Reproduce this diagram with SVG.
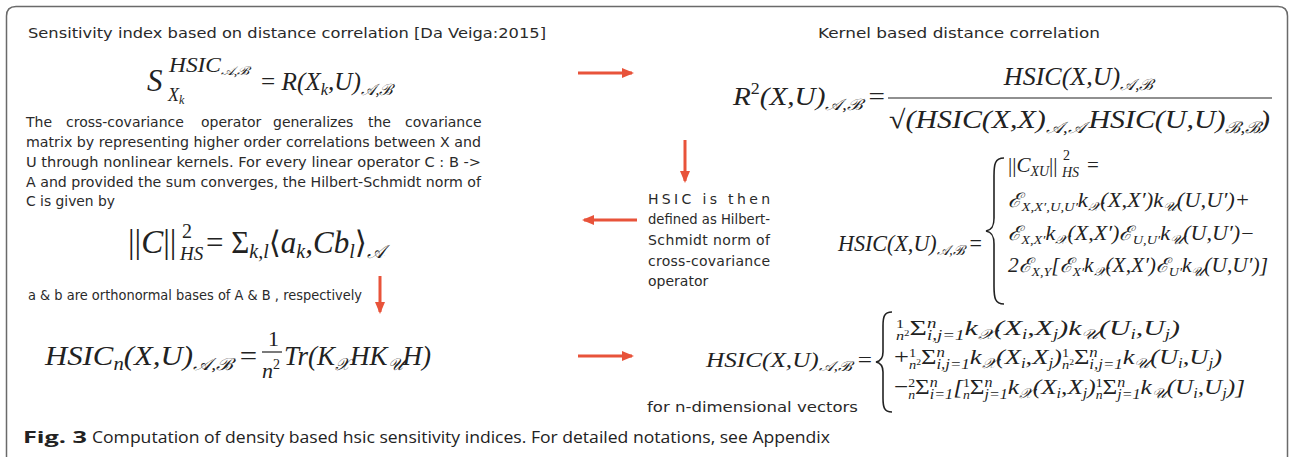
<svg xmlns="http://www.w3.org/2000/svg" width="1292" height="457" viewBox="0 0 1292 457">
  <style>
    .t { font-family: "DejaVu Sans", Verdana, sans-serif; font-size: 14px; fill: #2a2a2a; }
    .m { font-family: "Liberation Serif", "Times New Roman", "DejaVu Serif", serif; font-style: italic; fill: #222; }
    .up { font-style: normal; }
    .cap { font-family: "Open Sans", "Noto Sans", sans-serif; font-size: 16px; fill: #222; }
    .frame { fill: none; stroke: #6a6a6a; stroke-width: 1.5; }
    .arrow { stroke: #e8533a; stroke-width: 3; fill: none; marker-end: url(#head); }
    .brace { fill: none; stroke: #222; stroke-width: 1.6; }
    .bar { stroke: #222; stroke-width: 1.2; }
  </style>
  <defs>
    <marker id="head" viewBox="0 0 12 10" refX="10" refY="5" markerWidth="12" markerHeight="10" markerUnits="userSpaceOnUse" orient="auto">
      <path d="M0,0 L12,5 L0,10 Z" fill="#e8533a"/>
    </marker>
  </defs>

  <rect width="1292" height="457" fill="#fff"/>
  <!-- panel frame, open at the bottom edge -->
  <path class="frame" d="M6.5,470 L6.5,16 Q6.5,6.5 16,6.5 L1278,6.5 Q1287.5,6.5 1287.5,16 L1287.5,470"/>

  <!-- top-left: sensitivity index -->
  <g id="sensitivity-index">
    <text class="t" x="28" y="38" font-size="15" textLength="518" lengthAdjust="spacingAndGlyphs">Sensitivity index based on distance correlation [Da Veiga:2015]</text>
    <text class="m" x="147" y="91" font-size="31">S</text>
    <text class="m" x="169" y="72" font-size="20" textLength="80" lengthAdjust="spacingAndGlyphs">HSIC<tspan font-size="12" dy="3">𝒜,ℬ</tspan></text>
    <text class="m" x="168" y="101" font-size="18">X<tspan font-size="12" dy="3">k</tspan></text>
    <text class="m" x="261" y="90" font-size="26" textLength="131" lengthAdjust="spacingAndGlyphs"><tspan class="up">= </tspan>R(X<tspan font-size="17" dy="5">k</tspan><tspan dy="-5">,U)</tspan><tspan font-size="16" dy="5">𝒜,ℬ</tspan></text>
  </g>

  <!-- left: cross-covariance operator -->
  <g id="cross-covariance">
    <text class="t" y="127"><tspan x="26">The</tspan><tspan x="66">cross-covariance</tspan><tspan x="201">operator</tspan><tspan x="273">generalizes</tspan><tspan x="368">the</tspan><tspan x="405">covariance</tspan></text>
    <text class="t" x="26" y="147" textLength="455" lengthAdjust="spacingAndGlyphs">matrix by representing higher order correlations between X and</text>
    <text class="t" x="26" y="167" textLength="455" lengthAdjust="spacingAndGlyphs">U through nonlinear kernels. For every linear operator C : B -&gt;</text>
    <text class="t" x="26" y="187" textLength="455" lengthAdjust="spacingAndGlyphs">A and provided the sum converges, the Hilbert-Schmidt norm of</text>
    <text class="t" x="26" y="206" textLength="89" lengthAdjust="spacingAndGlyphs">C is given by</text>
    <text class="m" x="128" y="253" font-size="33"><tspan class="up">||</tspan>C<tspan class="up">||</tspan></text>
    <text class="m up" x="182" y="238" font-size="20">2</text>
    <text class="m" x="180" y="260" font-size="19">HS</text>
    <text class="m" x="206" y="253" font-size="31"><tspan class="up">= Σ</tspan><tspan font-size="20" dy="5">k,l</tspan><tspan dy="-5" class="up">⟨</tspan>a<tspan font-size="20" dy="5">k</tspan><tspan dy="-5">,Cb</tspan><tspan font-size="20" dy="5">l</tspan><tspan dy="-5" class="up">⟩</tspan><tspan font-size="19" dy="5">𝒜</tspan></text>
    <text class="t" x="28" y="300" font-size="13" textLength="334" lengthAdjust="spacingAndGlyphs">a &amp; b are orthonormal bases of A &amp; B , respectively</text>
  </g>

  <!-- bottom-left: empirical estimator -->
  <g id="empirical-hsic">
    <text class="m" x="45" y="365" font-size="27" textLength="212" lengthAdjust="spacingAndGlyphs">HSIC<tspan font-size="18" dy="5">n</tspan><tspan dy="-5">(X,U)</tspan><tspan font-size="17" dy="5">𝒜,ℬ</tspan><tspan dy="-5" class="up"> =</tspan></text>
    <text class="m up" x="268" y="346" font-size="22">1</text>
    <line class="bar" x1="262" y1="352" x2="282" y2="352"/>
    <text class="m" x="262" y="378" font-size="22">n<tspan font-size="14" dy="-9" class="up">2</tspan></text>
    <text class="m" x="284" y="365" font-size="27">Tr(K<tspan font-size="17" dy="5">𝒳</tspan><tspan dy="-5">HK</tspan><tspan font-size="17" dy="5">𝒰</tspan><tspan dy="-5">H)</tspan></text>
  </g>

  <!-- top-right: kernel distance correlation -->
  <g id="kernel-correlation">
    <text class="t" x="959" y="38" text-anchor="middle" textLength="282" lengthAdjust="spacingAndGlyphs">Kernel based distance correlation</text>
    <text class="m" x="733" y="105" font-size="26" textLength="152" lengthAdjust="spacingAndGlyphs">R<tspan font-size="16" dy="-11" class="up">2</tspan><tspan dy="11">(X,U)</tspan><tspan font-size="16" dy="5">𝒜,ℬ</tspan><tspan dy="-5" class="up"> =</tspan></text>
    <text class="m" x="1078" y="85" font-size="26" text-anchor="middle">HSIC(X,U)<tspan font-size="16" dy="5">𝒜,ℬ</tspan></text>
    <line class="bar" x1="888" y1="98" x2="1272" y2="98"/>
    <text class="m" x="889" y="128" font-size="26" textLength="381" lengthAdjust="spacingAndGlyphs"><tspan class="up">√</tspan>(HSIC(X,X)<tspan font-size="16" dy="5">𝒜,𝒜</tspan><tspan dy="-5" dx="3">HSIC(U,U)</tspan><tspan font-size="16" dy="5">ℬ,ℬ</tspan><tspan dy="-5">)</tspan></text>
  </g>

  <!-- right: HSIC as Hilbert-Schmidt norm -->
  <g id="hsic-definition">
    <text class="t" x="648" y="204" textLength="122" lengthAdjust="spacing">HSIC is then</text>
    <text class="t" x="648" y="224" textLength="122" lengthAdjust="spacingAndGlyphs">defined as Hilbert-</text>
    <text class="t" x="648" y="245" textLength="122" lengthAdjust="spacing">Schmidt norm of</text>
    <text class="t" x="648" y="266" textLength="122" lengthAdjust="spacing">cross-covariance</text>
    <text class="t" x="648" y="286">operator</text>
    <text class="m" x="838" y="251" font-size="23" textLength="144" lengthAdjust="spacingAndGlyphs">HSIC(X,U)<tspan font-size="14" dy="4">𝒜,ℬ</tspan><tspan dy="-4" class="up"> =</tspan></text>
    <path class="brace" d="M1004,158 C995,158 994,164 994,176 L994,218 C994,226 992,230 986,231 C992,232 994,236 994,244 L994,286 C994,298 995,304 1004,304"/>
    <text class="m" x="1008" y="172" font-size="21"><tspan class="up">||</tspan>C<tspan font-size="14" dy="4">XU</tspan><tspan dy="-4" class="up">||</tspan></text>
    <text class="m up" x="1063" y="160" font-size="14">2</text>
    <text class="m" x="1062" y="177" font-size="14">HS</text>
    <text class="m up" x="1087" y="172" font-size="21">=</text>
    <text class="m" x="1008" y="207" font-size="20" textLength="242" lengthAdjust="spacingAndGlyphs">ℰ<tspan font-size="13" dy="4">X,X′,U,U′</tspan><tspan dy="-4">k</tspan><tspan font-size="13" dy="4">𝒳</tspan><tspan dy="-4">(X,X′)k</tspan><tspan font-size="13" dy="4">𝒰</tspan><tspan dy="-4">(U,U′)+</tspan></text>
    <text class="m" x="1008" y="240" font-size="20" textLength="247" lengthAdjust="spacingAndGlyphs">ℰ<tspan font-size="13" dy="4">X,X′</tspan><tspan dy="-4">k</tspan><tspan font-size="13" dy="4">𝒳</tspan><tspan dy="-4">(X,X′)ℰ</tspan><tspan font-size="13" dy="4">U,U′</tspan><tspan dy="-4">k</tspan><tspan font-size="13" dy="4">𝒰</tspan><tspan dy="-4">(U,U′)−</tspan></text>
    <text class="m" x="1008" y="272" font-size="20" textLength="260" lengthAdjust="spacingAndGlyphs">2ℰ<tspan font-size="13" dy="4">X,Y</tspan><tspan dy="-4">[ℰ</tspan><tspan font-size="13" dy="4">X′</tspan><tspan dy="-4">k</tspan><tspan font-size="13" dy="4">𝒳</tspan><tspan dy="-4">(X,X′)ℰ</tspan><tspan font-size="13" dy="4">U′</tspan><tspan dy="-4">k</tspan><tspan font-size="13" dy="4">𝒰</tspan><tspan dy="-4">(U,U′)]</tspan></text>
  </g>

  <!-- bottom-right: estimator for n-dimensional vectors -->
  <g id="hsic-estimator">
    <text class="m" x="706" y="367" font-size="22" textLength="166" lengthAdjust="spacingAndGlyphs">HSIC(X,U)<tspan font-size="14" dy="4">𝒜,ℬ</tspan><tspan dy="-4" class="up"> =</tspan></text>
    <path class="brace" d="M892,312 C884,312 883,317 883,326 L883,352 C883,358 881,361 876,362 C881,363 883,366 883,372 L883,398 C883,407 884,412 892,412"/>
    <text class="m" x="896" y="335" font-size="22" textLength="284" lengthAdjust="spacingAndGlyphs"><tspan font-size="12" dy="-7" class="up">1</tspan><tspan font-size="12" dx="-6" dy="12">n</tspan><tspan font-size="8" dy="-4" class="up">2</tspan><tspan dy="-1" class="up">Σ</tspan><tspan font-size="14" dy="-7">n</tspan><tspan font-size="14" dx="-7" dy="12">i,j=1</tspan><tspan dy="-5">k</tspan><tspan font-size="14" dy="4">𝒳</tspan><tspan dy="-4">(X</tspan><tspan font-size="14" dy="4">i</tspan><tspan dy="-4">,X</tspan><tspan font-size="14" dy="4">j</tspan><tspan dy="-4">)k</tspan><tspan font-size="14" dy="4">𝒰</tspan><tspan dy="-4">(U</tspan><tspan font-size="14" dy="4">i</tspan><tspan dy="-4">,U</tspan><tspan font-size="14" dy="4">j</tspan><tspan dy="-4">)</tspan></text>
    <text class="m" x="894" y="364" font-size="22" textLength="328" lengthAdjust="spacingAndGlyphs"><tspan class="up">+</tspan><tspan font-size="12" dy="-7" class="up">1</tspan><tspan font-size="12" dx="-6" dy="12">n</tspan><tspan font-size="8" dy="-4" class="up">2</tspan><tspan dy="-1" class="up">Σ</tspan><tspan font-size="14" dy="-7">n</tspan><tspan font-size="14" dx="-7" dy="12">i,j=1</tspan><tspan dy="-5">k</tspan><tspan font-size="14" dy="4">𝒳</tspan><tspan dy="-4">(X</tspan><tspan font-size="14" dy="4">i</tspan><tspan dy="-4">,X</tspan><tspan font-size="14" dy="4">j</tspan><tspan dy="-4">)</tspan><tspan font-size="12" dy="-7" class="up">1</tspan><tspan font-size="12" dx="-6" dy="12">n</tspan><tspan font-size="8" dy="-4" class="up">2</tspan><tspan dy="-1" class="up">Σ</tspan><tspan font-size="14" dy="-7">n</tspan><tspan font-size="14" dx="-7" dy="12">i,j=1</tspan><tspan dy="-5">k</tspan><tspan font-size="14" dy="4">𝒰</tspan><tspan dy="-4">(U</tspan><tspan font-size="14" dy="4">i</tspan><tspan dy="-4">,U</tspan><tspan font-size="14" dy="4">j</tspan><tspan dy="-4">)</tspan></text>
    <text class="m" x="894" y="394" font-size="22" textLength="351" lengthAdjust="spacingAndGlyphs"><tspan class="up">−</tspan><tspan font-size="12" dy="-7" class="up">2</tspan><tspan font-size="12" dx="-6" dy="12">n</tspan><tspan dy="-5" class="up">Σ</tspan><tspan font-size="14" dy="-7">n</tspan><tspan font-size="14" dx="-7" dy="12">i=1</tspan><tspan dy="-5">[</tspan><tspan font-size="12" dy="-7" class="up">1</tspan><tspan font-size="12" dx="-6" dy="12">n</tspan><tspan dy="-5" class="up">Σ</tspan><tspan font-size="14" dy="-7">n</tspan><tspan font-size="14" dx="-7" dy="12">j=1</tspan><tspan dy="-5">k</tspan><tspan font-size="14" dy="4">𝒳</tspan><tspan dy="-4">(X</tspan><tspan font-size="14" dy="4">i</tspan><tspan dy="-4">,X</tspan><tspan font-size="14" dy="4">j</tspan><tspan dy="-4">)</tspan><tspan font-size="12" dy="-7" class="up">1</tspan><tspan font-size="12" dx="-6" dy="12">n</tspan><tspan dy="-5" class="up">Σ</tspan><tspan font-size="14" dy="-7">n</tspan><tspan font-size="14" dx="-7" dy="12">j=1</tspan><tspan dy="-5">k</tspan><tspan font-size="14" dy="4">𝒰</tspan><tspan dy="-4">(U</tspan><tspan font-size="14" dy="4">i</tspan><tspan dy="-4">,U</tspan><tspan font-size="14" dy="4">j</tspan><tspan dy="-4">)]</tspan></text>
    <text class="t" x="647" y="412" textLength="211" lengthAdjust="spacingAndGlyphs">for n-dimensional vectors</text>
  </g>

  <!-- connectors -->
  <g id="connectors">
    <line class="arrow" x1="578" y1="73" x2="632" y2="73"/>
    <line class="arrow" x1="685" y1="140" x2="685" y2="181"/>
    <line class="arrow" x1="637" y1="220" x2="584" y2="220"/>
    <line class="arrow" x1="380" y1="276" x2="380" y2="312"/>
    <line class="arrow" x1="578" y1="356" x2="632" y2="356"/>
  </g>

  <!-- caption -->
  <g id="caption">
    <text class="cap" x="23" y="443" font-weight="bold" textLength="64" lengthAdjust="spacingAndGlyphs">Fig. 3</text>
    <text class="cap" x="92" y="443" textLength="738" lengthAdjust="spacingAndGlyphs">Computation of density based hsic sensitivity indices. For detailed notations, see Appendix</text>
  </g>
</svg>
